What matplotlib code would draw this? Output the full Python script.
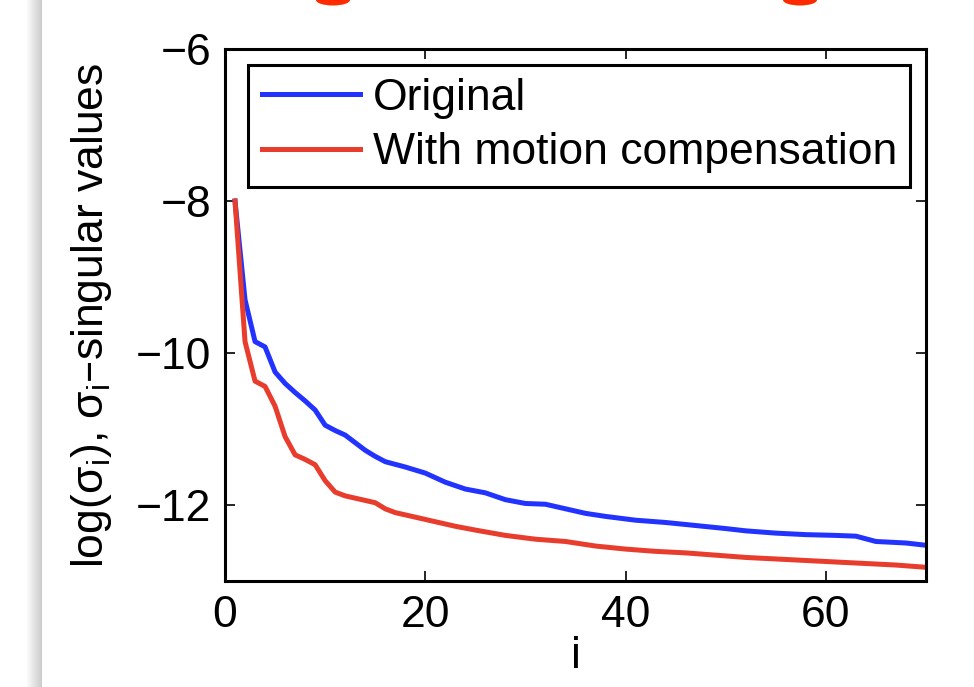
# Singular value decay: original vs motion compensated.

import numpy as np
import matplotlib.pyplot as plt
from matplotlib.patches import Ellipse

plt.rcParams["font.family"] = ["Liberation Sans", "DejaVu Sans"]
plt.rcParams["mathtext.default"] = "regular"

# valori
orig_i = [1, 2, 3, 4, 5, 6, 7, 8, 9, 10, 11, 12, 13, 14, 15, 16, 18, 20,
          22, 24, 26, 28, 30, 32, 34, 36, 38, 41, 44, 47, 50, 52, 55, 58,
          61, 63, 65, 68, 70]
orig_sv = [-8.0, -9.3, -9.85, -9.92, -10.25, -10.4, -10.52, -10.63, -10.75,
           -10.95, -11.02, -11.08, -11.18, -11.28, -11.36, -11.43, -11.5,
           -11.58, -11.7, -11.79, -11.84, -11.93, -11.98, -11.99, -12.05,
           -12.11, -12.15, -12.2, -12.23, -12.27, -12.31, -12.34, -12.37,
           -12.39, -12.4, -12.41, -12.48, -12.5, -12.53]

comp_i = [1, 2, 3, 4, 5, 6, 7, 8, 9, 10, 11, 12, 13, 14, 15, 16, 17, 19,
          21, 23, 25, 28, 31, 34, 37, 40, 43, 46, 49, 52, 55, 58, 61, 64,
          67, 70]
comp_sv = [-8.0, -9.85, -10.37, -10.44, -10.7, -11.1, -11.34, -11.4, -11.47,
           -11.68, -11.83, -11.88, -11.91, -11.94, -11.97, -12.05, -12.1,
           -12.16, -12.22, -12.28, -12.33, -12.4, -12.45, -12.48, -12.54,
           -12.58, -12.61, -12.63, -12.66, -12.69, -12.71, -12.73, -12.75,
           -12.77, -12.79, -12.82]

labels = ["Original", "With motion compensation"]
colors = ["#2233ff", "#e83c2c"]
x_ticks = [0, 20, 40, 60]
y_ticks = [-6, -8, -10, -12]

W, H = 974, 687
fig = plt.figure(figsize=(W / 100, H / 100), dpi=100)

# bordo della pagina a sinistra (ombra grigia)
shadow = fig.add_axes([26 / W, 0, 16 / W, 1])
grad = np.linspace(1.0, 0.86, 64) ** 1.5
shadow.imshow(np.tile(grad, (2, 1)), cmap="gray", vmin=0, vmax=1,
              aspect="auto", interpolation="bilinear")
shadow.axis("off")

# resti del titolo rosso tagliato in alto
for cx in (333, 800):
    fig.patches.append(Ellipse((cx / W, 1.0), 34 / W, 11 / H,
                               transform=fig.transFigure,
                               facecolor="#ff2a00", edgecolor="none"))

ax = fig.add_axes([225 / W, 1 - 581 / H, 701 / W, 532 / H])
ax.plot(orig_i, orig_sv, color=colors[0], lw=3.6, label=labels[0])
ax.plot(comp_i, comp_sv, color=colors[1], lw=3.6, label=labels[1])

ax.set_xlim(0, 70)
ax.set_ylim(-13, -6)
ax.set_xticks(x_ticks)
ax.set_yticks(y_ticks)
ax.tick_params(direction="in", length=7, width=1.2, labelsize=32,
               top=True, right=True, pad=10)
for sp in ax.spines.values():
    sp.set_linewidth(2.2)

ax.set_xlabel("i", fontsize=32, labelpad=0)
ax.set_ylabel("log(σ$_i$), σ$_i$–singular values", fontsize=32, labelpad=16)

leg = ax.legend(loc="upper right", fontsize=32, frameon=True, fancybox=False,
                framealpha=1, edgecolor="black", handlelength=2.2,
                handletextpad=0.3, borderpad=0.3, labelspacing=0.3,
                borderaxespad=0.35)
leg.get_frame().set_linewidth(2.2)

fig.savefig("out.png", dpi=100)
